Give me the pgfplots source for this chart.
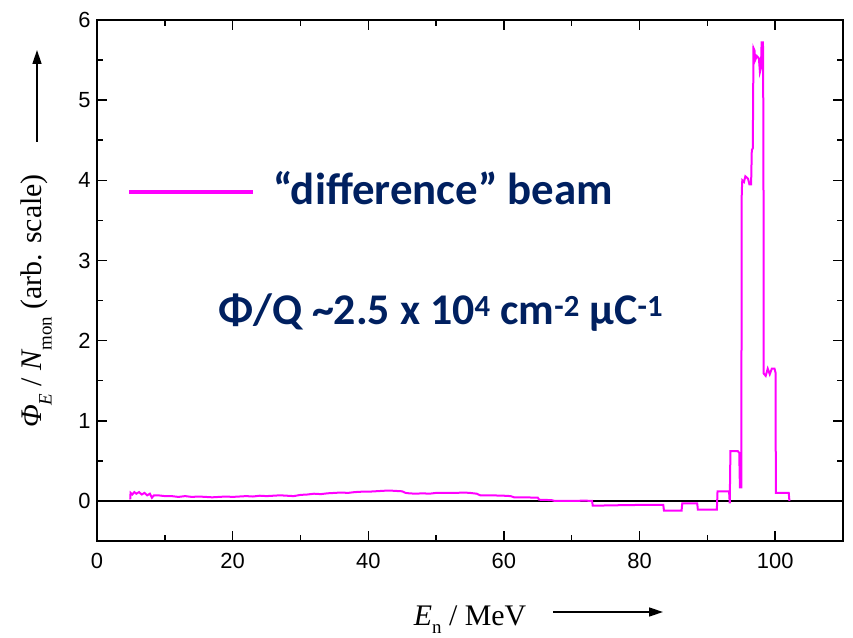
\documentclass[border=0pt]{standalone}
\usepackage{fontspec}
\setmainfont{Liberation Serif}
\setsansfont{Liberation Sans}
\newfontfamily\calfont{Carlito}
\usepackage{pgfplots}
\pgfplotsset{compat=1.18}
\usetikzlibrary{arrows.meta}
\definecolor{navy}{RGB}{0,32,96}
\definecolor{mag}{RGB}{255,0,255}

\begin{document}
\begin{tikzpicture}
\begin{axis}[
  scale only axis, width=746bp, height=521bp,
  xmin=0, xmax=110, ymin=-0.5, ymax=6,
  xtick={0,20,...,100}, ytick={0,1,...,6},
  minor x tick num=1, minor y tick num=1,
  tick align=inside, major tick length=10bp, minor tick length=6bp,
  axis line style={line width=2bp},
  every tick/.style={black, line width=1.5bp},
  /pgf/number format/assume math mode=true,
  tick label style={font=\fontsize{22}{22}\sffamily},
  xticklabel style={yshift=-9bp},
  yticklabel style={xshift=-3bp},
]
\addplot[black, line width=2bp] coordinates {(0,0) (110,0)};
\addplot[mag, line width=2bp] coordinates {
 (4.9,0.02) (4.95,0.10) (5.2,0.08) (5.5,0.11) (5.8,0.09) (6.2,0.11)
 (6.6,0.08) (7.0,0.10) (7.4,0.07) (7.8,0.09) (8.1,0.04) (8.4,0.07)
 (9,0.07) (10,0.06) (11,0.06) (12,0.05) (13,0.06) (14,0.05) (15,0.055)
 (16,0.05) (17,0.045) (18,0.05) (19,0.055) (20,0.05) (21,0.055)
 (22,0.06) (23,0.055) (24,0.065) (25,0.06) (26,0.065) (27,0.07)
 (28,0.065) (29,0.06) (30,0.075) (31,0.08) (32,0.09) (33,0.085)
 (34,0.095) (35,0.10) (36,0.105) (37,0.10) (38,0.11) (39,0.115)
 (40,0.115) (41,0.12) (42,0.125) (43,0.13) (44,0.125) (45,0.12)
 (45.5,0.10) (46,0.095) (47,0.09) (48,0.095) (49,0.09) (50,0.10)
 (51,0.10) (52,0.10) (53,0.10) (54,0.105) (55,0.10) (56,0.09)
 (56.5,0.07) (58,0.07) (60,0.065) (61,0.06) (61.5,0.045) (63,0.045)
 (65,0.04) (65.2,0.015) (67,0.01) (67.5,0.0) (71,0.0) (71.5,0.005)
 (73,0.0) (73.1,-0.06) (76,-0.055) (80,-0.05) (83.5,-0.05)
 (83.6,-0.12) (86.2,-0.12) (86.3,-0.03) (88.5,-0.03) (88.6,-0.11)
 (91.4,-0.11) (91.5,0.12) (93.2,0.12) (93.3,-0.03) (93.4,0.62)
 (94.5,0.62) (94.7,0.60) (94.8,0.17) (95.0,0.17) (95.07,3.85)
 (95.15,4.0) (95.4,3.98) (95.6,4.05) (96.0,4.02) (96.2,3.95)
 (96.45,3.95) (96.55,4.375) (96.7,4.4) (96.8,5.65) (96.95,5.62)
 (97.05,5.5) (97.3,5.55) (97.6,5.52) (97.75,5.35) (97.9,5.4)
 (98.0,5.72) (98.2,5.72) (98.27,4.5) (98.3,1.59) (98.6,1.56)
 (98.9,1.65) (99.2,1.58) (99.5,1.65) (99.9,1.65) (100.05,1.6)
 (100.1,0.10) (102.0,0.10) (102.1,0.0)
};
\end{axis}
% labels and annotation (1bp = 1px of the reference)
\node[rotate=90, font=\fontsize{30}{30}\selectfont, inner sep=0] at (-61bp,240bp)
  {{\itshape Φ}\raisebox{-0.35em}{\fontsize{19}{19}\selectfont\itshape E} / {\itshape N}\raisebox{-0.35em}{\fontsize{19}{19}\selectfont mon} (arb. scale)};
\draw[-{Triangle[length=14bp,width=9bp]}, line width=1.5bp] (-60bp,399bp) -- (-60bp,491bp);
\node[anchor=base, font=\fontsize{30}{30}\selectfont, inner sep=0] at (373bp,-84bp)
  {{\itshape E}\raisebox{-0.28em}{\fontsize{19}{19}\selectfont n} / MeV};
\draw[-{Triangle[length=14bp,width=9bp]}, line width=1.5bp] (456bp,-71bp) -- (566bp,-71bp);
\draw[mag, line width=4bp] (32bp,349bp) -- (156bp,349bp);
\node[anchor=base west, inner sep=0, text=navy, font=\fontsize{45}{45}\calfont\bfseries] at (176bp,336bp)
  {“difference” beam};
\node[anchor=base west, inner sep=0, text=navy, font=\fontsize{44}{44}\calfont\bfseries] at (121bp,216bp)
  {Φ/Q \textasciitilde2.5 x 10\textsuperscript{4} cm\textsuperscript{-2} μC\textsuperscript{-1}};
\pgfresetboundingbox
\path (-97bp,-97bp) rectangle (756bp,541bp);
\end{tikzpicture}
\end{document}
